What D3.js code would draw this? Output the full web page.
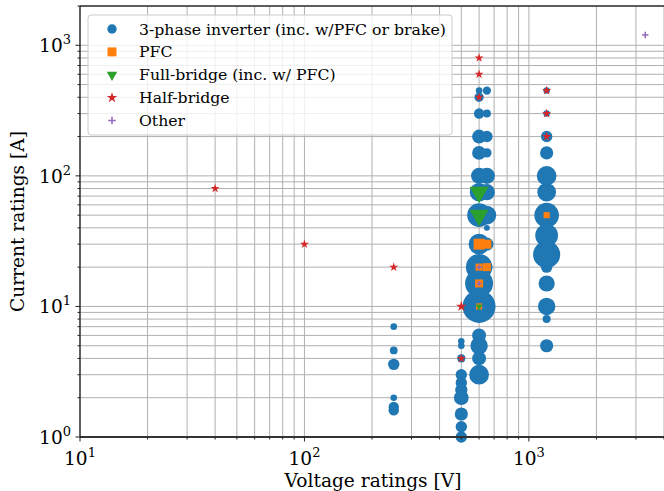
<!DOCTYPE html>
<meta charset="utf-8">
<script src="https://d3js.org/d3.v7.min.js"></script>
<style>
  body { margin: 0; background: white; }
  svg { display: block; font-family: "DejaVu Serif", serif; }
</style>
<div id="chart"></div>
<script>
  // legend order / series names
  var seriesNames = ["3-phase inverter (inc. w/PFC or brake)", "PFC", "Full-bridge (inc. w/ PFC)", "Half-bridge", "Other"];
  var seriesColors = ["#1f77b4", "#ff7f0e", "#2ca02c", "#d62728", "#9467bd"];

  // 3-phase inverter: voltage [V], current [A], number of products
  var invV = [250, 250, 250, 250, 250, 250,
              500, 500, 500, 500, 500, 500, 500, 500, 500, 500,
              600, 600, 600, 600, 600, 600, 600, 600, 600, 600, 600, 600, 600, 600, 600, 600,
              650, 650, 650, 650, 650, 650, 650, 650, 650, 650,
              1200, 1200, 1200, 1200, 1200, 1200, 1200, 1200, 1200, 1200, 1200, 1200, 1200, 1200];
  var invI = [7, 4.6, 3.6, 2, 1.7, 1.6,
              5.4, 5, 4, 3, 2.6, 2.3, 2, 1.5, 1.2, 1,
              450, 400, 300, 200, 150, 100, 75, 50, 30, 20, 15, 10, 6, 5, 4, 3,
              450, 300, 200, 150, 100, 75, 50, 40, 30, 20,
              450, 300, 200, 150, 100, 75, 50, 35, 25, 20, 15, 10, 8, 5];
  var invN = [1, 1.4, 3, 1, 2.5, 2.5,
              1, 1, 1.5, 3, 3, 3.5, 5, 4, 3, 3,
              1, 2, 2.5, 4.5, 4.5, 6, 8, 13, 10, 16, 18, 25, 4.5, 7, 4.5, 9,
              1.6, 1.5, 3, 2, 6, 6, 8, 0.8, 4, 3,
              1, 1, 3, 4, 9, 8, 14, 12, 17, 3, 6, 7, 1.5, 4];

  // PFC
  var pfcV = [600, 650, 600, 650, 600, 600, 1200];
  var pfcI = [30, 30, 20, 20, 15, 10, 50];
  var pfcN = [3.5, 2.4, 1.5, 1.9, 1.9, 1.1, 1.1];

  // Full-bridge
  var fbV = [600, 600, 600];
  var fbI = [75, 50, 10];
  var fbN = [4.6, 4.6, 0.6];

  // Half-bridge
  var hbV = [40, 100, 250, 500, 500, 600, 600, 600, 1200, 1200, 1200];
  var hbI = [80, 30, 20, 10, 4, 800, 600, 400, 450, 300, 200];
  var hbN = [0.75, 0.75, 0.75, 1, 0.75, 0.75, 0.75, 0.75, 0.75, 0.75, 0.75];

  // Other
  var otV = [3300, 600, 600];
  var otI = [1200, 20, 15];
  var otN = [1.2, 0.7, 0.7];

  var xTicks = [10, 100, 1000];
  var yTicks = [1, 10, 100, 1000];

  var W = 664, H = 491;
  var margin = {top: 6, right: 0, bottom: 54, left: 80};
  var width = W - margin.left - margin.right,
      height = H - margin.top - margin.bottom;

  var svg = d3.select("#chart").append("svg")
      .attr("width", W)
      .attr("height", H);

  var x = d3.scaleLog().domain([10, 4000]).range([margin.left, margin.left + width]);
  var y = d3.scaleLog().domain([1, 2000]).range([margin.top + height, margin.top]);
  var area = d3.scaleLinear().domain([0, 1]).range([0, 34]);

  // grid, major + minor
  var g = svg.append("g").attr("stroke", "#b0b0b0").attr("stroke-width", 1);
  g.selectAll("line.gx").data(x.ticks()).join("line")
    .attr("x1", d => x(d)).attr("x2", d => x(d))
    .attr("y1", margin.top).attr("y2", margin.top + height);
  g.selectAll("line.gy").data(y.ticks()).join("line")
    .attr("class", "gy")
    .attr("y1", d => y(d)).attr("y2", d => y(d))
    .attr("x1", margin.left).attr("x2", margin.left + width);

  var plot = svg.append("g");

  function pts(V, I, N) {
    return V.map((v, i) => ({v: v, i: I[i], n: N[i]}));
  }

  var plusType = {
    draw: function(ctx, size) {
      var r = Math.sqrt(size) / 2;
      ctx.moveTo(-r, 0); ctx.lineTo(r, 0);
      ctx.moveTo(0, -r); ctx.lineTo(0, r);
    }
  };

  function drawSeries(data, type, color, rot, stroke) {
    plot.append("g").selectAll("path").data(data).join("path")
      .attr("transform", d => "translate(" + x(d.v) + "," + y(d.i) + ")" + (rot ? " rotate(180)" : ""))
      .attr("d", d => d3.symbol().type(type).size(area(d.n))())
      .attr("fill", stroke ? "none" : color)
      .attr("stroke", stroke ? color : "none")
      .attr("stroke-width", stroke ? 1.5 : 0);
  }

  drawSeries(pts(invV, invI, invN), d3.symbolCircle, seriesColors[0]);
  drawSeries(pts(pfcV, pfcI, pfcN), d3.symbolSquare, seriesColors[1]);
  drawSeries(pts(fbV, fbI, fbN), d3.symbolTriangle, seriesColors[2], true);
  drawSeries(pts(hbV, hbI, hbN), d3.symbolStar, seriesColors[3]);
  drawSeries(pts(otV, otI, otN), plusType, seriesColors[4], false, true);

  // spines
  svg.append("line").attr("x1", margin.left).attr("x2", W)
    .attr("y1", margin.top).attr("y2", margin.top)
    .attr("stroke", "#333").attr("stroke-width", 1.6);
  svg.append("line").attr("x1", margin.left).attr("x2", W)
    .attr("y1", margin.top + height).attr("y2", margin.top + height)
    .attr("stroke", "#333").attr("stroke-width", 1.8);
  svg.append("line").attr("x1", margin.left).attr("x2", margin.left)
    .attr("y1", margin.top).attr("y2", margin.top + height)
    .attr("stroke", "#111").attr("stroke-width", 1.2);

  // ticks
  var tk = svg.append("g").attr("stroke", "#222").attr("stroke-width", 1);
  tk.selectAll("line.tx").data(x.ticks()).join("line")
    .attr("x1", d => x(d)).attr("x2", d => x(d))
    .attr("y1", margin.top + height)
    .attr("y2", d => margin.top + height + (xTicks.includes(d) ? 4.5 : 2.5));
  tk.selectAll("line.ty").data(y.ticks()).join("line")
    .attr("class", "ty")
    .attr("y1", d => y(d)).attr("y2", d => y(d))
    .attr("x1", margin.left)
    .attr("x2", d => margin.left - (yTicks.includes(d) ? 4.5 : 2.5));

  function powLabel(sel) {
    sel.append("tspan").text("10");
    sel.append("tspan").attr("dy", -8).style("font-size", "13px")
      .text(d => Math.round(Math.log10(d)));
  }

  svg.append("g").selectAll("text").data(xTicks).join("text")
    .attr("x", d => x(d)).attr("y", margin.top + height + 28)
    .attr("text-anchor", "middle")
    .style("font-size", "18.6px")
    .call(powLabel);

  svg.append("g").selectAll("text").data(yTicks).join("text")
    .attr("x", margin.left - 9).attr("y", d => y(d) + 7)
    .attr("text-anchor", "end")
    .style("font-size", "18.6px")
    .call(powLabel);

  svg.append("text")
    .attr("x", 373).attr("y", 487)
    .attr("text-anchor", "middle")
    .style("font-size", "18.6px")
    .text("Voltage ratings [V]");

  svg.append("text")
    .attr("transform", "translate(24," + (margin.top + height / 2) + ") rotate(-90)")
    .attr("text-anchor", "middle")
    .style("font-size", "18.6px")
    .text("Current ratings [A]");

  // legend
  var legendTypes = [d3.symbolCircle, d3.symbolSquare, d3.symbolTriangle, d3.symbolStar, plusType];
  var legendSizes = [70, 80, 48, 34, 56];
  var lg = svg.append("g");
  lg.append("rect")
    .attr("x", 88).attr("y", 15).attr("width", 364).attr("height", 120)
    .attr("rx", 3)
    .attr("fill", "white").attr("fill-opacity", 0.8)
    .attr("stroke", "#cccccc").attr("stroke-width", 1);
  var rows = lg.selectAll("g.row").data(seriesNames).join("g")
    .attr("transform", (d, i) => "translate(0," + (29 + i * 22.9) + ")");
  rows.append("path")
    .attr("transform", (d, i) => "translate(112,0)" + (i === 2 ? " rotate(180)" : ""))
    .attr("d", (d, i) => d3.symbol().type(legendTypes[i]).size(legendSizes[i])())
    .attr("fill", (d, i) => i === 4 ? "none" : seriesColors[i])
    .attr("stroke", (d, i) => i === 4 ? seriesColors[i] : "none")
    .attr("stroke-width", 1.5);
  rows.append("text")
    .attr("x", 139).attr("y", 5.5)
    .style("font-size", "15.7px")
    .text(d => d);
</script>
